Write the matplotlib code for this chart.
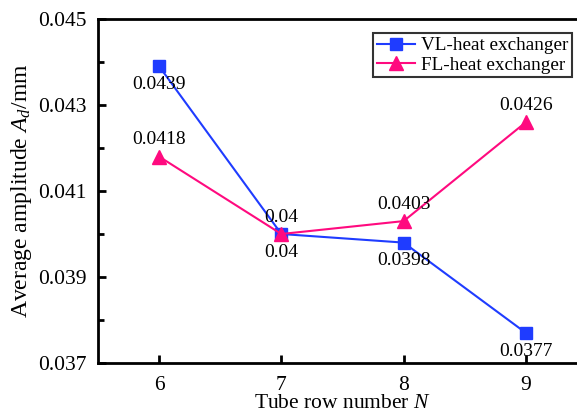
import numpy as np
from matplotlib import pyplot as plt
from matplotlib.ticker import FixedLocator

# data
rows = [6, 7, 8, 9]
vl_amp = [0.0439, 0.0400, 0.0398, 0.0377]
fl_amp = [0.0418, 0.0400, 0.0403, 0.0426]
vl_labels = ["0.0439", "0.04", "0.0398", "0.0377"]
fl_labels = ["0.0418", "0.04", "0.0403", "0.0426"]
y_major = [0.037, 0.039, 0.041, 0.043, 0.045]
y_minor = [0.038, 0.040, 0.042, 0.044]

plt.rcParams['font.family'] = ['Liberation Serif', 'DejaVu Serif']
plt.rcParams['mathtext.fontset'] = 'custom'
plt.rcParams['mathtext.rm'] = 'Liberation Serif'
plt.rcParams['mathtext.it'] = 'Liberation Serif:italic'

blue = '#1f3cff'
pink = '#ff0a7f'

fig = plt.figure(figsize=(5.77, 4.13), dpi=100)
ax = fig.add_axes([98 / 577, 1 - 363 / 413, 489 / 577, 344 / 413])

ax.plot(rows, vl_amp, color=blue, lw=1.5, marker='s', ms=9, label='VL-heat exchanger')
ax.plot(rows, fl_amp, color=pink, lw=1.5, marker='^', ms=10, label='FL-heat exchanger')

for x, y, s in zip(rows, vl_amp, vl_labels):
    ax.annotate(s, (x, y), xytext=(0, -7), textcoords='offset points',
                ha='center', va='top', fontsize=14)
for x, y, s in zip(rows, fl_amp, fl_labels):
    ax.annotate(s, (x, y), xytext=(0, 6), textcoords='offset points',
                ha='center', va='bottom', fontsize=14)

ax.set_xlim(5.5, 9.5)
ax.set_ylim(0.037, 0.045)
ax.set_xticks(rows)
ax.yaxis.set_major_locator(FixedLocator(y_major))
ax.yaxis.set_minor_locator(FixedLocator(y_minor))
ax.yaxis.set_major_formatter(plt.FuncFormatter(lambda v, p: f"{v:.3f}"))
ax.tick_params(which='both', direction='in', width=2, labelsize=15.5)
ax.tick_params(which='major', length=6, pad=8)
ax.tick_params(which='minor', length=4)
ax.tick_params(axis='x', which='major', pad=9)
for sp in ax.spines.values():
    sp.set_linewidth(2)

ax.set_xlabel('Tube row number $\\it{N}$', fontsize=15.5, labelpad=0)
ax.set_ylabel('Average amplitude $\\it{A_d}$/mm', fontsize=17, labelpad=3)

leg = ax.legend(loc='upper right', fontsize=13.8, frameon=True,
                fancybox=False, edgecolor='black', handlelength=2.0,
                borderpad=0.2, labelspacing=0.1, handletextpad=0.3,
                borderaxespad=0)
leg.get_frame().set_linewidth(1.5)
leg.set_bbox_to_anchor((572 / 577, 1 - 33 / 413), transform=fig.transFigure)

fig.savefig('out.png', dpi=100)
